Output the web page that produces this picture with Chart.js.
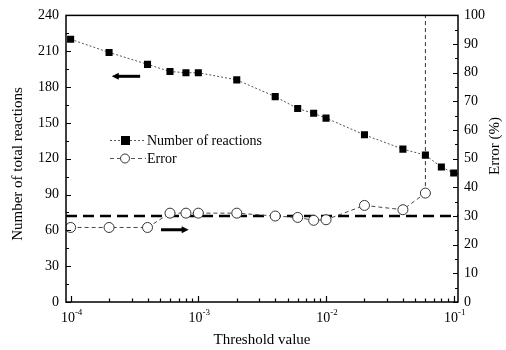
<!DOCTYPE html>
<html>
<head>
<meta charset="utf-8">
<script src="https://cdn.jsdelivr.net/npm/chart.js@4.4.0/dist/chart.umd.min.js"></script>
<style>
  html, body { margin: 0; padding: 0; background: #fff; }
  #wrap { width: 506px; height: 350px; }
</style>
</head>
<body>
<div id="wrap"><canvas id="thresholdChart" width="506" height="350"></canvas></div>
<script>
// ===========================
// DATA
// ===========================
const thresholds = [1e-4, 2e-4, 4e-4, 6e-4, 8e-4, 1e-3, 2e-3, 4e-3, 6e-3, 8e-3, 1e-2, 2e-2, 4e-2, 6e-2, 8e-2, 1e-1];
const reactionCounts = [220, 209, 199, 193, 192, 192, 186, 172, 162, 158, 154, 140, 128, 123, 113, 108];

const errorThresholds = [1e-4, 2e-4, 4e-4, 6e-4, 8e-4, 1e-3, 2e-3, 4e-3, 6e-3, 8e-3, 1e-2, 2e-2, 4e-2, 6e-2];
const errorPercent = [26, 26, 26, 31, 31, 31, 31, 30, 29.5, 28.5, 28.7, 33.7, 32.2, 38];

const errorLimit = 30;            // horizontal dashed reference (%)
const cutoffThreshold = 6e-2;     // vertical dashed marker
const cutoffRange = [38, 100];    // from the error point up to top (%)

const xRange = [9.2e-5, 0.108];
const xDecades = [-4, -3, -2, -1];
const leftTicks = [0, 30, 60, 90, 120, 150, 180, 210, 240];
const rightTicks = [0, 10, 20, 30, 40, 50, 60, 70, 80, 90, 100];

// arrows: [x from, x to, y] in data units (left axis)
const leftArrow = [3.5e-4, 2.1e-4, 189];
const rightArrow = [5.1e-4, 8.4e-4, 60.5];

const serif = '"Liberation Serif", "Times New Roman", serif';

function pairs(xs, ys) {
    return xs.map((x, i) => ({ x: x, y: ys[i] }));
}

// ===========================
// CUSTOM DRAWING (frame, inward ticks, labels, arrows, legend)
// ===========================
const decorPlugin = {
    id: 'decor',
    afterDraw(chart) {
        const ctx = chart.ctx;
        const area = chart.chartArea;
        const xs = chart.scales.x;
        const yl = chart.scales.y;
        const yr = chart.scales.y2;

        ctx.save();
        ctx.strokeStyle = '#000';
        ctx.fillStyle = '#000';

        // frame
        ctx.lineWidth = 1.5;
        ctx.strokeRect(area.left, area.top, area.right - area.left, area.bottom - area.top);

        // left axis ticks (inward)
        ctx.lineWidth = 1.2;
        ctx.beginPath();
        for (let v = 0; v <= 240; v += 15) {
            const py = Math.round(yl.getPixelForValue(v)) + 0.5;
            const len = v % 30 === 0 ? 5 : 3;
            ctx.moveTo(area.left, py);
            ctx.lineTo(area.left + len, py);
        }
        // right axis ticks (inward)
        for (let v = 0; v <= 100; v += 5) {
            const py = Math.round(yr.getPixelForValue(v)) + 0.5;
            const len = v % 10 === 0 ? 5 : 3;
            ctx.moveTo(area.right, py);
            ctx.lineTo(area.right - len, py);
        }
        // x axis ticks (inward, log minors)
        xDecades.forEach(e => {
            for (let m = 1; m <= 9; m++) {
                const v = m * Math.pow(10, e);
                if (v < xRange[0] || v > xRange[1]) continue;
                const px = Math.round(xs.getPixelForValue(v)) + 0.5;
                const len = m === 1 ? 6 : 3.5;
                ctx.moveTo(px, area.bottom);
                ctx.lineTo(px, area.bottom - len);
            }
        });
        ctx.stroke();

        // x tick labels: 10 with superscript exponent
        xDecades.forEach(e => {
            const px = xs.getPixelForValue(Math.pow(10, e));
            ctx.font = '14px ' + serif;
            const base = '10';
            const bw = ctx.measureText(base).width;
            ctx.font = '9px ' + serif;
            const sup = String(e);
            const sw = ctx.measureText(sup).width;
            const startX = px - (bw + sw) / 2 + 1;
            ctx.textBaseline = 'alphabetic';
            ctx.textAlign = 'left';
            ctx.font = '14px ' + serif;
            ctx.fillText(base, startX, area.bottom + 20);
            ctx.font = '9px ' + serif;
            ctx.fillText(sup, startX + bw, area.bottom + 13);
        });

        // axis titles
        ctx.font = '15px ' + serif;
        ctx.textAlign = 'center';
        ctx.textBaseline = 'middle';
        ctx.fillText('Threshold value', (area.left + area.right) / 2, 340);

        ctx.save();
        ctx.translate(18, 164);
        ctx.rotate(-Math.PI / 2);
        ctx.fillText('Number of total reactions', 0, 0);
        ctx.restore();

        ctx.save();
        ctx.translate(495, 146);
        ctx.rotate(-Math.PI / 2);
        ctx.fillText('Error (%)', 0, 0);
        ctx.restore();

        // arrows
        function arrow(x0, x1, py) {
            const a = xs.getPixelForValue(x0);
            const b = xs.getPixelForValue(x1);
            const dir = Math.sign(b - a);
            ctx.lineWidth = 3;
            ctx.beginPath();
            ctx.moveTo(a, py);
            ctx.lineTo(b - dir * 5, py);
            ctx.stroke();
            ctx.beginPath();
            ctx.moveTo(b, py);
            ctx.lineTo(b - dir * 7, py - 3.5);
            ctx.lineTo(b - dir * 7, py + 3.5);
            ctx.closePath();
            ctx.fill();
        }
        arrow(leftArrow[0], leftArrow[1], yl.getPixelForValue(leftArrow[2]));
        arrow(rightArrow[0], rightArrow[1], yl.getPixelForValue(rightArrow[2]));

        // legend
        const lx0 = 110, lx1 = 146, lmid = 125;
        const rows = [
            { y: 140, label: 'Number of reactions', dash: [2, 2], marker: 'rect' },
            { y: 158, label: 'Error', dash: [4, 3], marker: 'circle' }
        ];
        rows.forEach(r => {
            ctx.lineWidth = 1;
            ctx.strokeStyle = '#555';
            ctx.setLineDash(r.dash);
            ctx.beginPath();
            ctx.moveTo(lx0, r.y + 0.5);
            ctx.lineTo(lx1, r.y + 0.5);
            ctx.stroke();
            ctx.setLineDash([]);
            if (r.marker === 'rect') {
                ctx.fillStyle = '#000';
                ctx.fillRect(lmid - 4, r.y - 4, 9, 9);
            } else {
                ctx.fillStyle = '#fff';
                ctx.strokeStyle = '#333';
                ctx.beginPath();
                ctx.arc(lmid, r.y + 0.5, 4.5, 0, Math.PI * 2);
                ctx.fill();
                ctx.stroke();
            }
            ctx.fillStyle = '#000';
            ctx.font = '14px ' + serif;
            ctx.textAlign = 'left';
            ctx.textBaseline = 'middle';
            ctx.fillText(r.label, lx1 + 1, r.y + 1);
        });

        ctx.restore();
    }
};

// ===========================
// CHART
// ===========================
const canvas = document.getElementById('thresholdChart');
const ctx = canvas.getContext('2d');

new Chart(ctx, {
    type: 'scatter',
    data: {
        datasets: [
            {
                label: 'Error',
                data: pairs(errorThresholds, errorPercent),
                yAxisID: 'y2',
                showLine: true,
                borderColor: '#444',
                borderWidth: 1,
                borderDash: [4, 3],
                pointStyle: 'circle',
                pointRadius: 5,
                pointBackgroundColor: '#fff',
                pointBorderColor: '#333',
                pointBorderWidth: 1,
                order: 0
            },
            {
                label: 'Number of reactions',
                data: pairs(thresholds, reactionCounts),
                yAxisID: 'y',
                showLine: true,
                borderColor: '#555',
                borderWidth: 1,
                borderDash: [2, 2],
                pointStyle: 'rect',
                pointRadius: 5,
                pointBackgroundColor: '#000',
                pointBorderColor: '#000',
                pointBorderWidth: 0,
                order: 1
            },
            {
                label: 'limit',
                data: pairs(xRange, [errorLimit, errorLimit]),
                yAxisID: 'y2',
                showLine: true,
                borderColor: '#000',
                borderWidth: 2.5,
                borderDash: [11, 6],
                pointRadius: 0,
                order: 2
            },
            {
                label: 'cutoff',
                data: pairs([cutoffThreshold, cutoffThreshold], cutoffRange),
                yAxisID: 'y2',
                showLine: true,
                borderColor: '#333',
                borderWidth: 1,
                borderDash: [4, 3],
                pointRadius: 0,
                order: 3
            }
        ]
    },
    options: {
        responsive: false,
        animation: false,
        layout: { padding: { top: 13, left: 0, right: 0, bottom: 0 } },
        plugins: {
            legend: { display: false },
            tooltip: { enabled: false }
        },
        scales: {
            x: {
                type: 'logarithmic',
                min: xRange[0],
                max: xRange[1],
                grid: { display: false },
                border: { display: false },
                ticks: { display: false },
                afterFit: scale => { scale.height = 48; }
            },
            y: {
                position: 'left',
                min: 0,
                max: 240,
                afterBuildTicks: scale => { scale.ticks = leftTicks.map(v => ({ value: v })); },
                grid: { display: false, drawTicks: false },
                border: { display: false },
                ticks: {
                    color: '#000',
                    padding: 7,
                    font: { family: serif, size: 14 }
                },
                afterFit: scale => { scale.width = 66; }
            },
            y2: {
                position: 'right',
                min: 0,
                max: 100,
                afterBuildTicks: scale => { scale.ticks = rightTicks.map(v => ({ value: v })); },
                grid: { display: false, drawTicks: false },
                border: { display: false },
                ticks: {
                    color: '#000',
                    padding: 6,
                    font: { family: serif, size: 14 }
                },
                afterFit: scale => { scale.width = 48; }
            }
        }
    },
    plugins: [decorPlugin]
});
</script>
</body>
</html>
